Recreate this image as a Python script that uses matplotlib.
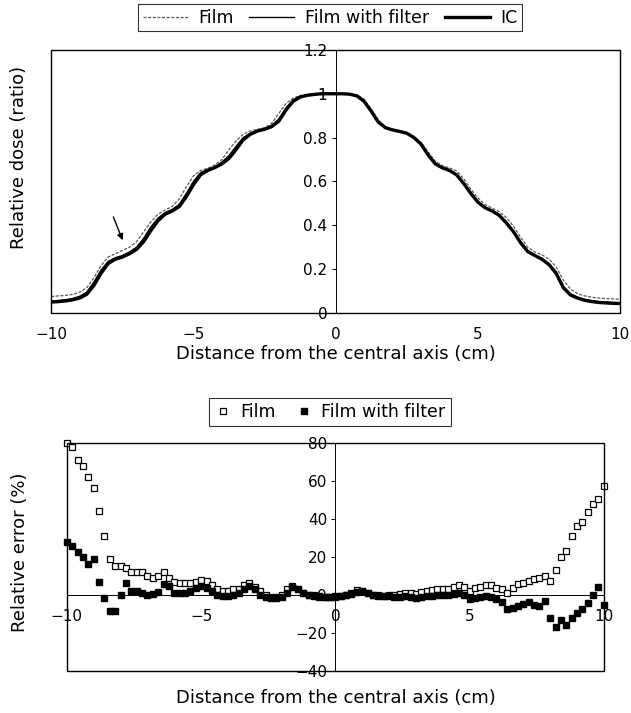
import matplotlib
matplotlib.use('Agg')
import matplotlib.pyplot as plt
from matplotlib.lines import Line2D
from matplotlib.patches import Rectangle

plt.rcParams['font.family'] = ['DejaVu Sans']
plt.rcParams['axes.unicode_minus'] = True

# top panel: dose profiles, sampled every 0.25 cm
dist_top = [
    -10.0, -9.75, -9.5, -9.25, -9.0, -8.75, -8.5, -8.25, -8.0, -7.75,
    -7.5, -7.25, -7.0, -6.75, -6.5, -6.25, -6.0, -5.75, -5.5, -5.25,
    -5.0, -4.75, -4.5, -4.25, -4.0, -3.75, -3.5, -3.25, -3.0, -2.75,
    -2.5, -2.25, -2.0, -1.75, -1.5, -1.25, -1.0, -0.75, -0.5, -0.25,
    0.0,
    0.25, 0.5, 0.75, 1.0, 1.25, 1.5, 1.75, 2.0, 2.25, 2.5,
    2.75, 3.0, 3.25, 3.5, 3.75, 4.0, 4.25, 4.5, 4.75, 5.0,
    5.25, 5.5, 5.75, 6.0, 6.25, 6.5, 6.75, 7.0, 7.25, 7.5,
    7.75, 8.0, 8.25, 8.5, 8.75, 9.0, 9.25, 9.5, 9.75, 10.0]

dose_ic = [
    0.050, 0.052, 0.055, 0.060, 0.068, 0.085, 0.125, 0.180, 0.225, 0.245,
    0.255, 0.270, 0.290, 0.325, 0.375, 0.420, 0.450, 0.465, 0.485, 0.530,
    0.585, 0.630, 0.650, 0.663, 0.680, 0.705, 0.745, 0.790, 0.815, 0.830,
    0.838, 0.850, 0.875, 0.925, 0.965, 0.985, 0.993, 0.997, 1.000, 1.000,
    1.000,
    1.000, 0.998, 0.990, 0.965, 0.920, 0.870, 0.845, 0.835, 0.828, 0.820,
    0.800, 0.770, 0.720, 0.680, 0.662, 0.650, 0.630, 0.590, 0.545, 0.505,
    0.480, 0.465, 0.445, 0.410, 0.370, 0.320, 0.280, 0.262, 0.245, 0.220,
    0.180, 0.115, 0.082, 0.068, 0.058, 0.052, 0.048, 0.046, 0.044, 0.043]

dose_film = [
    0.075, 0.078, 0.080, 0.085, 0.095, 0.115, 0.160, 0.215, 0.255, 0.270,
    0.285, 0.300, 0.325, 0.370, 0.415, 0.450, 0.470, 0.485, 0.520, 0.575,
    0.625, 0.650, 0.660, 0.675, 0.700, 0.745, 0.785, 0.815, 0.830, 0.838,
    0.845, 0.865, 0.910, 0.955, 0.980, 0.992, 0.997, 1.000, 1.000, 1.000,
    1.000,
    1.000, 1.000, 0.995, 0.975, 0.930, 0.880, 0.850, 0.838, 0.830, 0.822,
    0.805, 0.778, 0.735, 0.692, 0.672, 0.662, 0.648, 0.612, 0.565, 0.525,
    0.495, 0.478, 0.462, 0.435, 0.395, 0.345, 0.300, 0.278, 0.265, 0.245,
    0.210, 0.150, 0.110, 0.088, 0.078, 0.072, 0.068, 0.066, 0.064, 0.063]

dose_filter = [
    0.055, 0.057, 0.060, 0.066, 0.076, 0.095, 0.140, 0.195, 0.235, 0.252,
    0.262, 0.278, 0.300, 0.340, 0.392, 0.432, 0.458, 0.472, 0.495, 0.545,
    0.600, 0.640, 0.655, 0.667, 0.688, 0.718, 0.760, 0.800, 0.820, 0.833,
    0.840, 0.855, 0.885, 0.935, 0.972, 0.988, 0.995, 0.998, 1.000, 1.000,
    1.000,
    1.000, 0.998, 0.992, 0.968, 0.922, 0.872, 0.846, 0.836, 0.829, 0.820,
    0.800, 0.768, 0.720, 0.680, 0.663, 0.652, 0.633, 0.595, 0.550, 0.508,
    0.482, 0.467, 0.448, 0.415, 0.375, 0.325, 0.285, 0.265, 0.248, 0.225,
    0.188, 0.122, 0.088, 0.072, 0.062, 0.056, 0.052, 0.050, 0.048, 0.047]

# bottom panel: relative error, sampled every 0.2 cm
dist_err = [
    -10.0, -9.8, -9.6, -9.4, -9.2, -9.0, -8.8, -8.6, -8.4, -8.2,
    -8.0, -7.8, -7.6, -7.4, -7.2, -7.0, -6.8, -6.6, -6.4, -6.2,
    -6.0, -5.8, -5.6, -5.4, -5.2, -5.0, -4.8, -4.6, -4.4, -4.2,
    -4.0, -3.8, -3.6, -3.4, -3.2, -3.0, -2.8, -2.6, -2.4, -2.2,
    -2.0, -1.8, -1.6, -1.4, -1.2, -1.0, -0.8, -0.6, -0.4, -0.2,
    0.0,
    0.2, 0.4, 0.6, 0.8, 1.0, 1.2, 1.4, 1.6, 1.8, 2.0,
    2.2, 2.4, 2.6, 2.8, 3.0, 3.2, 3.4, 3.6, 3.8, 4.0,
    4.2, 4.4, 4.6, 4.8, 5.0, 5.2, 5.4, 5.6, 5.8, 6.0,
    6.2, 6.4, 6.6, 6.8, 7.0, 7.2, 7.4, 7.6, 7.8, 8.0,
    8.2, 8.4, 8.6, 8.8, 9.0, 9.2, 9.4, 9.6, 9.8, 10.0]

err_film = [
    80, 78, 71, 68, 62, 56, 44, 31, 19, 15,
    15, 14, 12, 12, 12, 10, 9, 10, 12, 9,
    7, 6, 6, 6, 7, 8, 7.5, 5, 3, 2,
    2, 3, 3, 5, 6, 4, 2, 0, -1, -1,
    0, 3, 4.5, 3, 1, 0, 0, -1, -1, -1,
    -1,
    -0.5, 0, 1, 2.5, 2, 1, 0, 0, -0.5, 0,
    0, 0.5, 1, 1, 0.5, 1.5, 2, 2.5, 3, 3,
    3, 4, 5, 4, 2, 3.5, 4, 5, 5, 3.5,
    3, 1, 3.5, 5.6, 6.5, 7.4, 8.3, 9, 9.7, 7.4,
    13, 19.7, 23, 31, 36, 38.5, 43.6, 47.8, 50.6, 57.5]

err_filter = [
    27.6, 25.8, 22.3, 19.7, 16.3, 18.8, 7, -1.8, -8.3, -8.3,
    -0.3, 6.5, 2, 2, 1, 0, 0.5, 1.5, 5.6, 4.7,
    1, 1, 1, 2, 3.5, 4.5, 3.5, 2, 0, -0.5,
    -0.5, 0, 1, 3, 4.5, 3, 0, -1, -1.5, -1.5,
    -1, 1, 4, 3, 1, 0, -0.5, -0.5, -1, -1,
    -0.5,
    -0.5, 0, 0.5, 1.5, 2, 1, 0, -0.5, -0.5, -0.5,
    -1, -1, -0.5, -1, -1.5, -1, -0.5, -0.5, 0, 0,
    0, 0.5, 1, 0, -2, -1.5, -1, -0.5, -1, -2,
    -3.5, -7.5, -7, -6, -5, -4, -5.5, -6, -3, -12.3,
    -16.7, -13, -15.8, -12.3, -9.7, -7.5, -4.4, 0, 4.4, -5.3]

x_ticks = [-10, -5, 0, 5, 10]
dose_ticks = [0, 0.2, 0.4, 0.6, 0.8, 1.0, 1.2]
dose_labels = ['0', '0.2', '0.4', '0.6', '0.8', '1', '1.2']
err_ticks = [-40, -20, 0, 20, 40, 60, 80]


def frame(ax):
    ax.add_patch(Rectangle((0, 0), 1, 1, transform=ax.transAxes, fill=False,
                           edgecolor='black', linewidth=1.0, zorder=5, clip_on=False))


def draw():
    fig = plt.figure(figsize=(6.31, 7.13), dpi=100)

    # dose profiles
    ax1 = fig.add_axes([0.081, 0.561, 0.902, 0.369])
    ax1.plot(dist_top, dose_film, color='0.35', linewidth=0.9, linestyle=(0, (2.5, 1.2)))
    ax1.plot(dist_top, dose_filter, color='black', linewidth=1.0)
    ax1.plot(dist_top, dose_ic, color='black', linewidth=2.4)
    ax1.set_xlim(-10, 10)
    ax1.set_ylim(0, 1.2)
    ax1.set_xticks(x_ticks)
    ax1.set_yticks(dose_ticks)
    ax1.set_yticklabels(dose_labels)
    ax1.spines['left'].set_position(('data', 0))
    ax1.spines['left'].set_linewidth(0.7)
    for s in ['top', 'right', 'bottom']:
        ax1.spines[s].set_visible(False)
    frame(ax1)
    ax1.tick_params(axis='x', length=0, pad=10, labelsize=11)
    ax1.tick_params(axis='y', length=3, width=0.7, pad=3, labelsize=11)
    ax1.set_xlabel('Distance from the central axis (cm)', fontsize=13)
    ax1.xaxis.set_label_coords(0.5, -0.12)
    ax1.set_ylabel('Relative dose (ratio)', fontsize=13)
    ax1.yaxis.set_label_coords(-0.040, 0.59)
    ax1.annotate('', xy=(-7.45, 0.32), xytext=(-7.85, 0.45),
                 arrowprops=dict(arrowstyle='-|>', color='black', lw=1.0,
                                 mutation_scale=9))

    handles1 = [Line2D([], [], color='0.35', linewidth=0.9, linestyle=(0, (2.5, 1.2))),
                Line2D([], [], color='black', linewidth=1.0),
                Line2D([], [], color='black', linewidth=2.4)]
    leg1 = fig.legend(handles1, ['Film', 'Film with filter', 'IC'], loc='center',
                      bbox_to_anchor=(0.523, 0.975), ncol=3, fontsize=12.5,
                      frameon=True, fancybox=False, handlelength=2.6,
                      columnspacing=0.9, handletextpad=0.6, borderpad=0.25)
    leg1.get_frame().set_edgecolor('black')
    leg1.get_frame().set_linewidth(0.8)

    # relative error
    ax2 = fig.add_axes([0.106, 0.059, 0.851, 0.320])
    ax2.plot(dist_err, err_film, linestyle='none', marker='s', markersize=4.4,
             markerfacecolor='white', markeredgecolor='black', markeredgewidth=0.9,
             clip_on=False, zorder=3)
    ax2.plot(dist_err, err_filter, linestyle='none', marker='s', markersize=4.4,
             markerfacecolor='black', markeredgecolor='black', clip_on=False, zorder=4)
    ax2.set_xlim(-10, 10)
    ax2.set_ylim(-40, 80)
    ax2.set_xticks(x_ticks)
    ax2.set_yticks(err_ticks)
    ax2.spines['left'].set_position(('data', 0))
    ax2.spines['bottom'].set_position(('data', 0))
    ax2.spines['left'].set_linewidth(0.7)
    ax2.spines['bottom'].set_linewidth(0.7)
    for s in ['top', 'right']:
        ax2.spines[s].set_visible(False)
    frame(ax2)
    ax2.tick_params(axis='x', length=0, pad=10, labelsize=11)
    ax2.tick_params(axis='y', length=3, width=0.7, pad=3, labelsize=11)
    ax2.set_xlabel('Distance from the central axis (cm)', fontsize=13)
    ax2.xaxis.set_label_coords(0.5, -0.08)
    ax2.set_ylabel('Relative error (%)', fontsize=13)
    ax2.yaxis.set_label_coords(-0.071, 0.52)

    handles2 = [Line2D([], [], linestyle='none', marker='s', markersize=4.4,
                       markerfacecolor='white', markeredgecolor='black', markeredgewidth=0.9),
                Line2D([], [], linestyle='none', marker='s', markersize=4.4,
                       markerfacecolor='black', markeredgecolor='black')]
    leg2 = fig.legend(handles2, ['Film', 'Film with filter'], loc='center',
                      bbox_to_anchor=(0.523, 0.422), ncol=2, fontsize=12.5,
                      frameon=True, fancybox=False, handlelength=1.0,
                      columnspacing=1.1, handletextpad=0.5, borderpad=0.3)
    leg2.get_frame().set_edgecolor('black')
    leg2.get_frame().set_linewidth(0.8)

    fig.savefig('out.png', dpi=100)


if __name__ == "__main__":
    draw()
